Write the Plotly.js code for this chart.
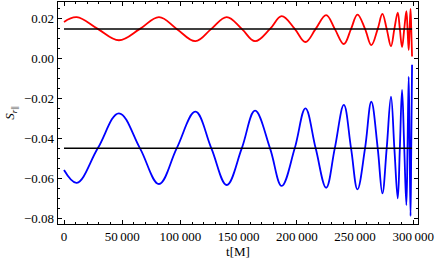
<!DOCTYPE html>
<html>
<head>
<meta charset="utf-8">
<script src="https://cdn.plot.ly/plotly-3.0.1.min.js"></script>
<style>html,body{margin:0;padding:0;background:#fff;}#chart{width:436px;height:260px;}</style>
</head>
<body>
<div id="chart"></div>
<script>
// time samples (M) at extrema and mean-crossings
const tValues = [0, 11000, 29000, 47200, 65300, 81600, 96800, 112900, 126600, 139800,
  152700, 164100, 177000, 187000, 198200, 207400, 216200, 225200, 232600, 240400,
  246600, 252100, 258600, 264000, 269500, 273500, 277200, 280900, 283800, 286700,
  288500, 290400, 292300, 294100, 295100, 296100, 296900, 297700, 298300, 299000];
const redValues = [0.0185, 0.0209, 0.015, 0.0093, 0.015, 0.0209, 0.015, 0.0088, 0.015, 0.0209,
  0.015, 0.0088, 0.015, 0.0214, 0.015, 0.0084, 0.015, 0.0219, 0.015, 0.0074,
  0.015, 0.0222, 0.015, 0.0068, 0.015, 0.0225, 0.015, 0.0063, 0.015, 0.0232,
  0.015, 0.0058, 0.015, 0.0239, 0.015, 0.0044, 0.015, 0.0250, 0.015, 0.0011];
const blueValues = [-0.0559, -0.0623, -0.045, -0.0274, -0.045, -0.0629, -0.045, -0.0266, -0.045, -0.0634,
  -0.045, -0.0261, -0.045, -0.0639, -0.045, -0.0249, -0.045, -0.0648, -0.045, -0.0232,
  -0.045, -0.0656, -0.045, -0.0216, -0.045, -0.0676, -0.045, -0.0190, -0.045, -0.0701,
  -0.045, -0.0157, -0.045, -0.0735, -0.045, -0.0090, -0.045, -0.0790, -0.045, -0.0030];
const refLineT = [0, 299000];
const redMean = [0.015, 0.015];
const blueMean = [-0.045, -0.045];
const xTickVals = [0, 50000, 100000, 150000, 200000, 250000, 300000];
const xTickText = ['0', '50\u2009000', '100\u2009000', '150\u2009000', '200\u2009000', '250\u2009000', '300\u2009000'];
const yTickVals = [-0.08, -0.06, -0.04, -0.02, 0, 0.02];
const yTickText = ['\u22120.08', '\u22120.06', '\u22120.04', '\u22120.02', '0.00', '0.02'];

const font = {family: 'Liberation Serif, Times New Roman, serif', size: 13, color: '#000'};

const traces = [
  {x: tValues, y: redValues, mode: 'lines', line: {color: '#ff0000', width: 1.8, shape: 'spline', smoothing: 1.1}, hoverinfo: 'skip'},
  {x: tValues, y: blueValues, mode: 'lines', line: {color: '#0000ff', width: 1.8, shape: 'spline', smoothing: 1.1}, hoverinfo: 'skip'},
  {x: refLineT, y: redMean, mode: 'lines', line: {color: '#000', width: 1.5}, hoverinfo: 'skip'},
  {x: refLineT, y: blueMean, mode: 'lines', line: {color: '#000', width: 1.5}, hoverinfo: 'skip'}
];

const layout = {
  width: 436, height: 260,
  margin: {l: 58, r: 18, t: 2, b: 36},
  paper_bgcolor: '#fff', plot_bgcolor: '#fff',
  showlegend: false,
  font: font,
  xaxis: {
    range: [-5150, 304100],
    tickvals: xTickVals, ticktext: xTickText,
    ticks: 'inside', ticklen: 4, tickwidth: 1, tickcolor: '#000',
    minor: {ticks: 'inside', ticklen: 2, dtick: 10000, tick0: 0, tickcolor: '#000', showgrid: false},
    showline: true, linecolor: '#000', linewidth: 1.3, mirror: 'allticks',
    showgrid: false, zeroline: false,
    tickfont: font,
    title: {text: 't[M]', font: font, standoff: 4}
  },
  yaxis: {
    range: [-0.083, 0.0285],
    tickvals: yTickVals, ticktext: yTickText,
    ticks: 'inside', ticklen: 4, tickwidth: 1, tickcolor: '#000',
    minor: {ticks: 'inside', ticklen: 2, dtick: 0.005, tick0: 0, tickcolor: '#000', showgrid: false},
    showline: true, linecolor: '#000', linewidth: 1.3, mirror: 'allticks',
    showgrid: false, zeroline: false,
    tickfont: font,
    title: {text: '<i>S</i><sub><i>r</i>||</sub>', font: font, standoff: 6}
  }
};

Plotly.newPlot('chart', traces, layout, {staticPlot: true, displayModeBar: false});
</script>
</body>
</html>
